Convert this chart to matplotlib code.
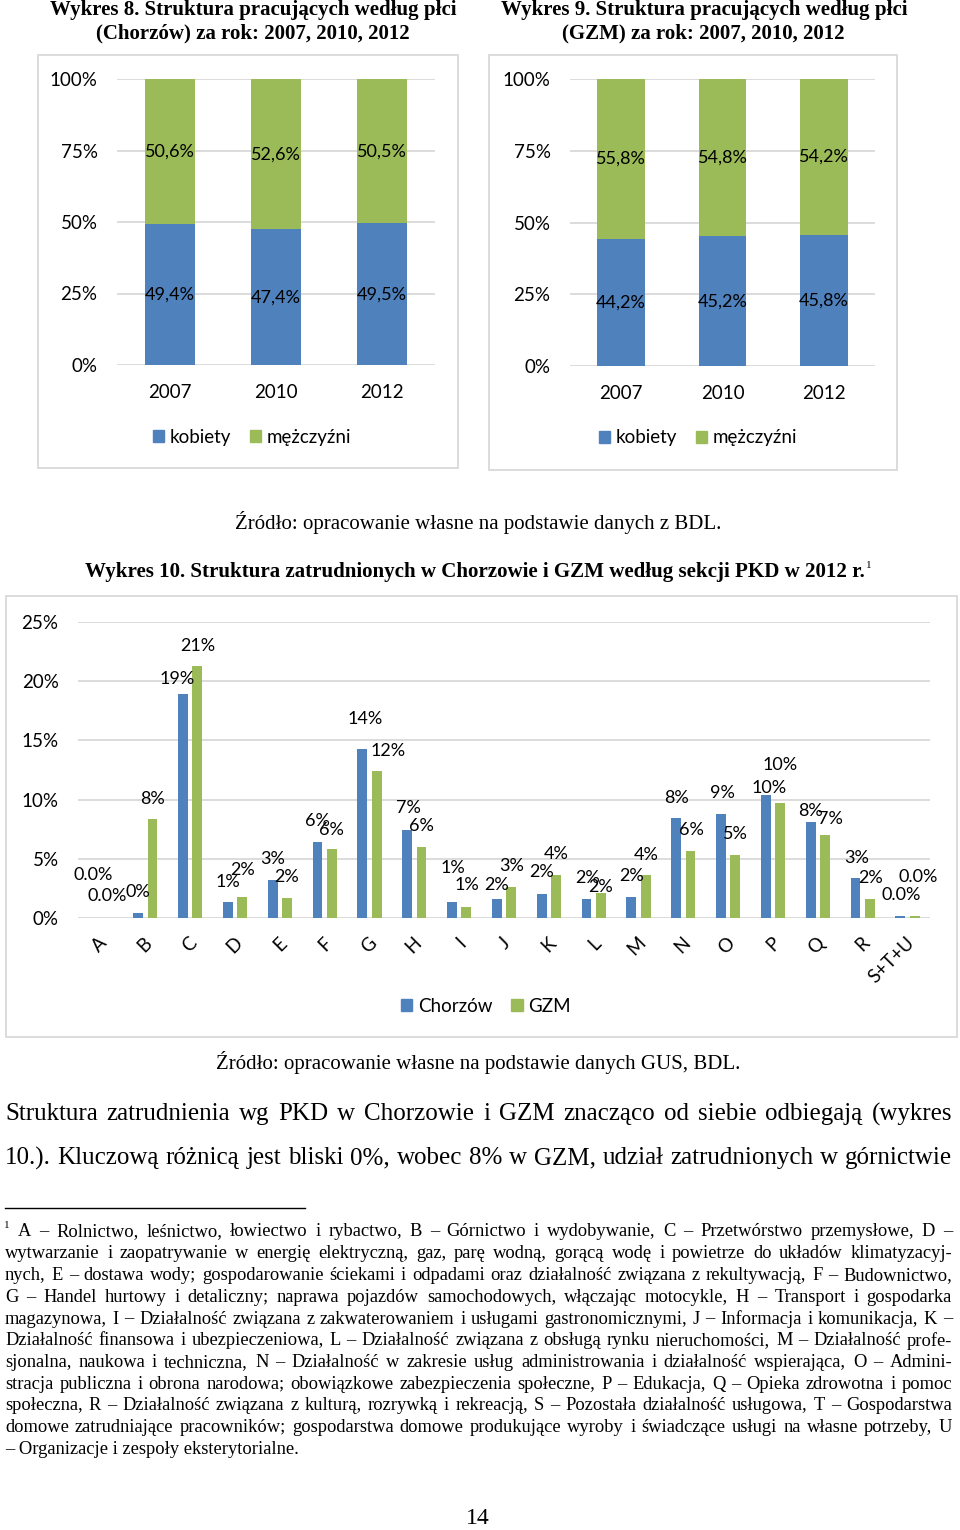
import matplotlib
matplotlib.use('Agg')
import matplotlib.pyplot as plt
from matplotlib.patches import Rectangle, Patch
from matplotlib.transforms import ScaledTranslation
import numpy as np

# --- data ---
years = ['2007', '2010', '2012']
chorzow_kobiety = [49.4, 47.4, 49.5]
chorzow_mezczyzni = [50.6, 52.6, 50.5]
gzm_kobiety = [44.2, 45.2, 45.8]
gzm_mezczyzni = [55.8, 54.8, 54.2]

sections = ['A', 'B', 'C', 'D', 'E', 'F', 'G', 'H', 'I', 'J', 'K', 'L', 'M',
            'N', 'O', 'P', 'Q', 'R', 'S+T+U']
chorzow_pkd = [0.03, 0.45, 18.9, 1.36, 3.2, 6.4, 14.3, 7.4, 1.33, 1.6, 2.0,
               1.6, 1.75, 8.45, 8.8, 10.4, 8.1, 3.4, 0.15]
gzm_pkd = [0.03, 8.4, 21.3, 1.75, 1.67, 5.8, 12.4, 6.0, 0.96, 2.6, 3.6,
           2.1, 3.6, 5.7, 5.3, 9.7, 7.0, 1.6, 0.15]
chorzow_pkd_labels = ['0.0%', '0%', '19%', '1%', '3%', '6%', '14%', '7%', '1%',
                      '2%', '2%', '2%', '2%', '8%', '9%', '10%', '8%', '3%', '0.0%']
gzm_pkd_labels = ['0.0%', '8%', '21%', '2%', '2%', '6%', '12%', '6%', '1%',
                  '3%', '4%', '2%', '4%', '6%', '5%', '10%', '7%', '2%', '0.0%']

# label offsets (pixels) from top of bar - manual placement like in the source
chorzow_off = [(0, 43), (0, 21), (-6, 15), (0, 20), (0, 21), (0, 21), (3, 30),
               (1, 22), (1, 34), (0, 14), (0, 22), (1, 21), (0, 21), (0, 20),
               (1, 21), (3, 7), (0, 11), (1, 20), (1, 21)]
gzm_off = [(0, 22), (0, 20), (0, 20), (0, 27), (0, 21), (0, 19), (11, 20),
           (0, 21), (1, 22), (0, 21), (0, 21), (0, 6), (0, 20), (1, 21),
           (0, 21), (0, 38), (5, 16), (1, 21), (3, 39)]

footnote = [
    'A – Rolnictwo, leśnictwo, łowiectwo i rybactwo, B – Górnictwo i wydobywanie, C – Przetwórstwo przemysłowe, D –',
    'wytwarzanie i zaopatrywanie w energię elektryczną, gaz, parę wodną, gorącą wodę i powietrze do układów klimatyzacyj-',
    'nych, E – dostawa wody; gospodarowanie ściekami i odpadami oraz działalność związana z rekultywacją, F – Budownictwo,',
    'G – Handel hurtowy i detaliczny; naprawa pojazdów samochodowych, włączając motocykle, H – Transport i gospodarka',
    'magazynowa, I – Działalność związana z zakwaterowaniem i usługami gastronomicznymi, J – Informacja i komunikacja, K –',
    'Działalność finansowa i ubezpieczeniowa, L – Działalność związana z obsługą rynku nieruchomości, M – Działalność profe-',
    'sjonalna, naukowa i techniczna, N – Działalność w zakresie usług administrowania i działalność wspierająca, O – Admini-',
    'stracja publiczna i obrona narodowa; obowiązkowe zabezpieczenia społeczne, P – Edukacja, Q – Opieka zdrowotna i pomoc',
    'społeczna, R – Działalność związana z kulturą, rozrywką i rekreacją, S – Pozostała działalność usługowa, T – Gospodarstwa',
    'domowe zatrudniające pracowników; gospodarstwa domowe produkujące wyroby i świadczące usługi na własne potrzeby, U',
    '– Organizacje i zespoły eksterytorialne.',
]
paragraph = [
    'Struktura zatrudnienia wg PKD w Chorzowie i GZM znacząco od siebie odbiegają (wykres',
    '10.). Kluczową różnicą jest bliski 0%, wobec 8% w GZM, udział zatrudnionych w górnictwie',
]

BLUE = '#4F81BD'
GREEN = '#9BBB59'
GRID = '#D9D9D9'
SANS = ['Lato', 'DejaVu Sans']
SERIF = ['Liberation Serif', 'DejaVu Serif']

W, H = 960, 1530
fig = plt.figure(figsize=(W / 100, H / 100), dpi=100)
renderer = fig.canvas.get_renderer()


def fx(x):
    return x / W


def fy(y):
    return 1 - y / H


def box(x0, y0, x1, y1):
    fig.add_artist(Rectangle((fx(x0), fy(y1)), (x1 - x0) / W, (y1 - y0) / H,
                             transform=fig.transFigure, fill=False,
                             ec=GRID, lw=1.3))


def ftext(x, y, s, size, ha='center', bold=False, family=SERIF):
    return fig.text(fx(x), fy(y), s, fontsize=size, ha=ha, va='center',
                    family=family, fontweight='bold' if bold else 'normal')


def justify(line, y, size, x0=5, x1=952):
    words = line.split(' ')
    arts = [ftext(0, y, w, size, ha='left') for w in words]
    widths = [a.get_window_extent(renderer=renderer).width for a in arts]
    gap = (x1 - x0 - sum(widths)) / (len(words) - 1)
    x = x0
    for a, w in zip(arts, widths):
        a.set_x(fx(x))
        x += w + gap


def stacked(rect, kob, mez, legend_xy):
    ax = fig.add_axes(rect)
    x = np.arange(len(years))
    ax.bar(x, kob, width=0.47, color=BLUE, zorder=3)
    ax.bar(x, mez, width=0.47, bottom=kob, color=GREEN, zorder=3)
    for i in range(len(years)):
        ax.text(x[i], kob[i] / 2, f'{kob[i]:.1f}%'.replace('.', ','),
                ha='center', va='center', fontsize=13, family=SANS, zorder=4)
        ax.text(x[i], kob[i] + mez[i] / 2, f'{mez[i]:.1f}%'.replace('.', ','),
                ha='center', va='center', fontsize=13, family=SANS, zorder=4)
    ax.set_xlim(-0.5, 2.5)
    ax.set_ylim(0, 100)
    ax.set_yticks([0, 25, 50, 75, 100])
    ax.set_yticklabels(['0%', '25%', '50%', '75%', '100%'])
    ax.set_xticks(x)
    ax.set_xticklabels(years)
    ax.yaxis.grid(True, color=GRID, lw=1.3, zorder=0)
    for s in ax.spines.values():
        s.set_visible(False)
    ax.tick_params(length=0, labelsize=13.5)
    ax.tick_params(axis='y', pad=14)
    ax.tick_params(axis='x', pad=14)
    for lbl in ax.get_xticklabels() + ax.get_yticklabels():
        lbl.set_family(SANS)
    handles = [Patch(color=BLUE, label='kobiety'), Patch(color=GREEN, label='mężczyźni')]
    fig.legend(handles=handles, loc='center', bbox_to_anchor=legend_xy, ncol=2,
               frameon=False, handlelength=0.6, handleheight=0.6,
               handletextpad=0.3, columnspacing=1.0,
               prop={'family': SANS, 'size': 13.5})
    return ax


# --- top charts ---
ftext(253, 10, 'Wykres 8. Struktura pracujących według płci', 15, bold=True)
ftext(253, 33, '(Chorzów) za rok: 2007, 2010, 2012', 15, bold=True)
ftext(704, 10, 'Wykres 9. Struktura pracujących według płci', 15, bold=True)
ftext(703, 33, '(GZM) za rok: 2007, 2010, 2012', 15, bold=True)

box(38, 55, 458, 468)
box(489, 55, 897, 470)
stacked([fx(117), fy(365), (435 - 117) / W, (365 - 79) / H],
        chorzow_kobiety, chorzow_mezczyzni, (fx(252), fy(437)))
stacked([fx(570), fy(366), (875 - 570) / W, (366 - 79) / H],
        gzm_kobiety, gzm_mezczyzni, (fx(698), fy(438)))

ftext(478, 522, 'Źródło: opracowanie własne na podstawie danych z BDL.', 15)
ftext(475, 572, 'Wykres 10. Struktura zatrudnionych w Chorzowie i GZM według sekcji PKD w 2012 r.', 15.1, bold=True)
ftext(869, 565, '1', 8)

# --- bottom chart ---
box(6, 596, 957, 1037)
ax = fig.add_axes([fx(78), fy(918), (930 - 78) / W, (918 - 622) / H])
x = np.arange(len(sections))
ax.bar(x - 0.16, chorzow_pkd, width=0.22, color=BLUE, zorder=3)
ax.bar(x + 0.16, gzm_pkd, width=0.22, color=GREEN, zorder=3)
for i in range(len(sections)):
    ax.annotate(chorzow_pkd_labels[i], (x[i] - 0.16, chorzow_pkd[i]),
                xytext=chorzow_off[i], textcoords='offset pixels',
                ha='center', va='center', fontsize=13, family=SANS, zorder=4)
    ax.annotate(gzm_pkd_labels[i], (x[i] + 0.16, gzm_pkd[i]),
                xytext=gzm_off[i], textcoords='offset pixels',
                ha='center', va='center', fontsize=13, family=SANS, zorder=4)
ax.set_xlim(-0.5, len(sections) - 0.5)
ax.set_ylim(0, 25)
ax.set_yticks([0, 5, 10, 15, 20, 25])
ax.set_yticklabels(['0%', '5%', '10%', '15%', '20%', '25%'])
ax.set_xticks(x)
ax.set_xticklabels(sections, rotation=45, ha='right', va='center',
                   rotation_mode='anchor')
ax.yaxis.grid(True, color=GRID, lw=1.3, zorder=0)
for s in ax.spines.values():
    s.set_visible(False)
ax.tick_params(length=0, labelsize=13.5)
ax.tick_params(axis='y', pad=14)
ax.tick_params(axis='x', pad=16)
for lbl in ax.get_yticklabels():
    lbl.set_family(SANS)
for lbl in ax.get_xticklabels():
    lbl.set_family(SANS)
    lbl.set_transform(lbl.get_transform() + ScaledTranslation(0.04, 0, fig.dpi_scale_trans))
fig.legend(handles=[Patch(color=BLUE, label='Chorzów'), Patch(color=GREEN, label='GZM')],
           loc='center', bbox_to_anchor=(fx(486), fy(1006)), ncol=2,
           frameon=False, handlelength=0.6, handleheight=0.6,
           handletextpad=0.3, columnspacing=1.0,
           prop={'family': SANS, 'size': 13.5})

ftext(478, 1062, 'Źródło: opracowanie własne na podstawie danych GUS, BDL.', 15)

# --- text below ---
justify(paragraph[0], 1114, 18)
justify(paragraph[1], 1158, 18)

fig.add_artist(plt.Line2D([fx(5), fx(305)], [fy(1208), fy(1208)],
                          transform=fig.transFigure, color='black', lw=1))
ftext(7, 1226, '1', 8, ha='center')
justify(footnote[0], 1232, 13.3, x0=18)
for i, line in enumerate(footnote[1:-1]):
    justify(line, 1254 + i * 21.7, 13.3)
ftext(5, 1449, footnote[-1], 13.3, ha='left')

ftext(478, 1519, '14', 17)

fig.savefig('out.png', dpi=100, facecolor='white')
